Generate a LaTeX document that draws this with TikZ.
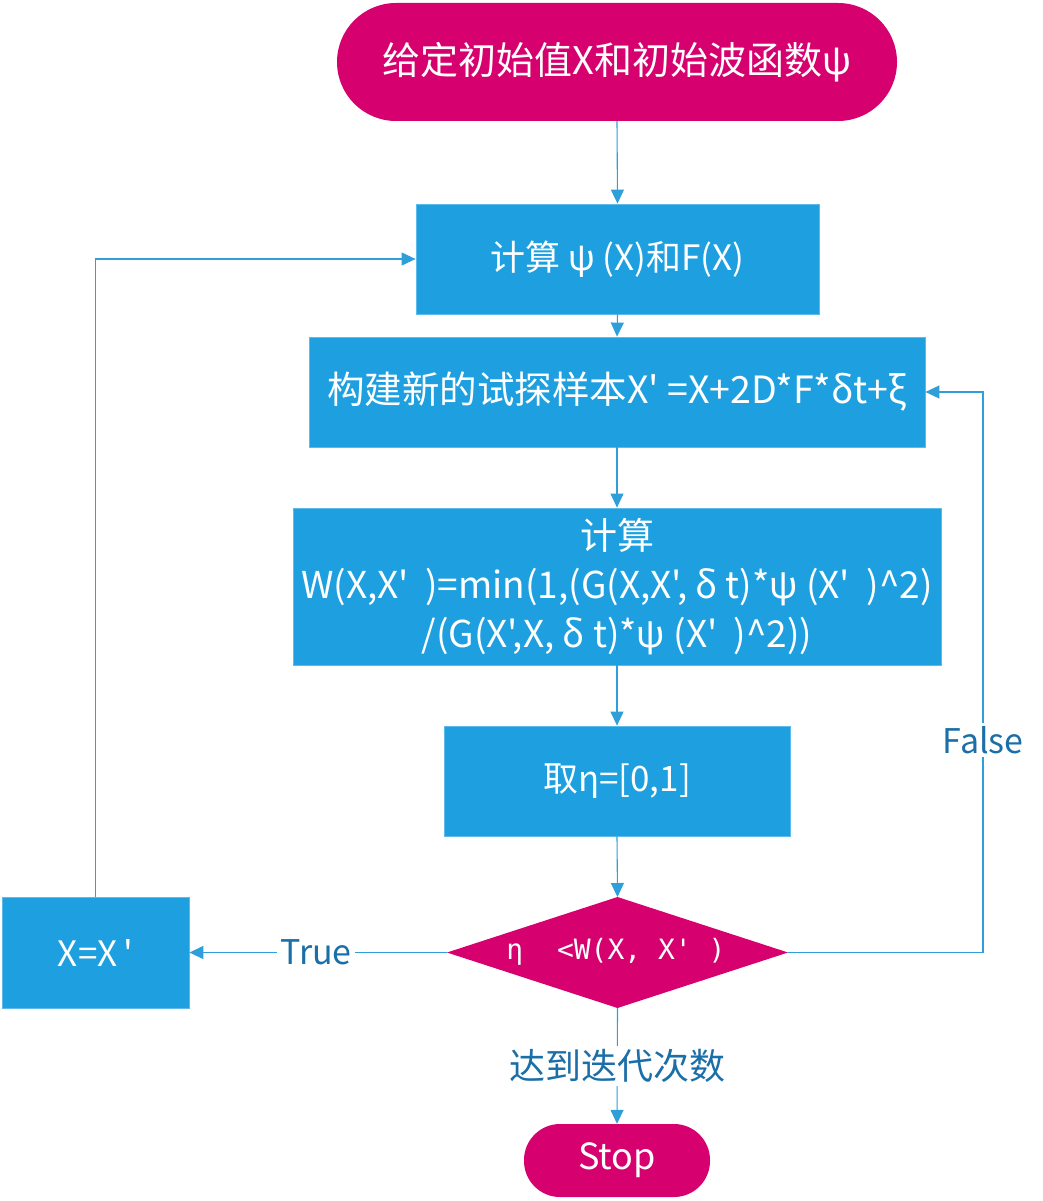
\documentclass[tikz,border=0pt]{standalone}
\usepackage{fontspec}
\setmainfont{Noto Sans CJK SC}[Ligatures=TeXOff]
\newfontfamily\monof{DejaVu Sans Mono}[Ligatures=TeXOff]
\usetikzlibrary{arrows.meta}
\definecolor{mag}{HTML}{D6006E}
\definecolor{boxblue}{HTML}{1EA0E0}
\definecolor{boxedge}{HTML}{5CBBEA}
\definecolor{lineblue}{HTML}{2E9FD8}
\definecolor{lblblue}{HTML}{1B6FA8}
\begin{document}
\begin{tikzpicture}[x=1pt,y=-1pt,
  box/.style={rectangle, fill=boxblue, draw=boxedge, line width=0.8pt, text=white,
    inner sep=0pt, align=center, font=\fontsize{35}{49}\selectfont},
  term/.style={rectangle, fill=mag, text=white, inner sep=0pt},
  conn/.style={draw=lineblue, line width=1.1pt, -{Triangle[length=14pt,width=13pt]}},
  plain/.style={draw=lineblue, line width=1.1pt},
  lbl/.style={fill=white, text=lblblue, inner sep=3pt, font=\fontsize{34}{40}\selectfont}
]
\useasboundingbox (0,0) rectangle (1043,1201);

% nodes
\node[term, rounded corners=59pt, minimum width=560pt, minimum height=118pt,
  font=\fontsize{38}{44}\selectfont] (start) at (617,62) {给定初始值X和初始波函数ψ};
\node[box, minimum width=403pt, minimum height=110pt] (box1) at (617.5,259) {计算 ψ (X)和F(X)};
\node[box, minimum width=616pt, minimum height=110pt, font=\fontsize{37.5}{49}\selectfont] (box2) at (617,392)
  {构建新的试探样本X' =X+2D*F*δt+ξ};
\node[box, minimum width=648pt, minimum height=157pt, font=\fontsize{37}{49}\selectfont] (box3) at (617,586.5)
  {计算\\W(X,X'\ \ )=min(1,(G(X,X', δ t)*ψ (X'\ \ )\^{}2)\\/(G(X',X, δ t)*ψ (X'\ \ )\^{}2))};
\node[box, minimum width=346pt, minimum height=110pt] (box4) at (617,781) {取η=[0,1]};

% decision diamond
\coordinate (dT) at (617.5,897);
\coordinate (dB) at (617.5,1008);
\coordinate (dL) at (447,952.5);
\coordinate (dR) at (788,952.5);
\fill[mag] (dT) -- (dR) -- (dB) -- (dL) -- cycle;
\node[text=white, font=\monof\fontsize{28}{32}\selectfont] (dec) at (616,952) {η\ \ <W(X,\ X'\ )};

\node[box, minimum width=187pt, minimum height=111pt] (xx) at (95.5,952.5) {X=X\,'};
\node[term, rounded corners=36pt, minimum width=186pt, minimum height=73pt,
  font=\fontsize{36}{42}\selectfont] (stop) at (617,1160.5) {Stop};

\coordinate (fc) at (983,952.5);

% connectors
\draw[conn] (start.south) -- (box1.north);
\draw[conn] (box1.south) -- (box2.north);
\draw[conn] (box2.south) -- (box3.north);
\draw[conn] (box3.south) -- (box4.north);
\draw[conn] (box4.south) -- (dT);
\draw[conn] (dL) -- (xx.east);
\draw[conn] (xx.north) |- (box1.west);
\draw[plain] (dR) -- (fc);
\draw[conn] (fc) |- (box2.east);
\draw[conn] (dB) -- (stop.north);

% labels
\node[lbl] (tlbl) at (316,952) {True};
\node[lbl] (flbl) at (983,740) {False};
\node[lbl, font=\fontsize{36}{40}\selectfont] (ilbl) at (617,1066) {达到迭代次数};
\end{tikzpicture}
\end{document}
